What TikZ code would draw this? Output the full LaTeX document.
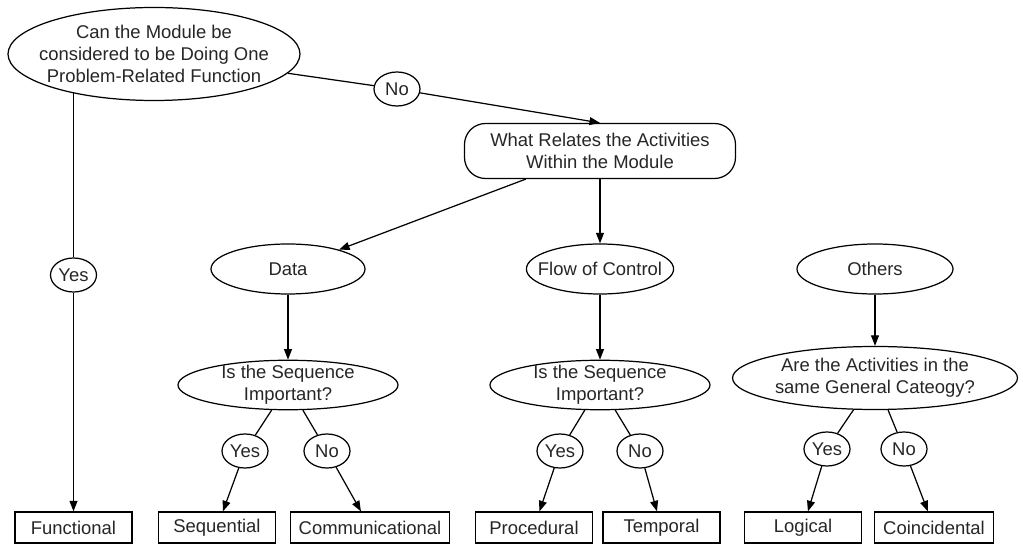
\documentclass[tikz,border=0pt]{standalone}
\usepackage{fontspec}
\setmainfont{Liberation Sans}
\usetikzlibrary{arrows.meta,shapes.geometric}

\begin{document}
\begin{tikzpicture}[
  font=\fontsize{10.5}{12.4}\selectfont,
  line width=0.7pt,
  quest/.style={ellipse,draw,inner sep=0pt,align=center,text=black!85},
  answer/.style={ellipse,draw,inner sep=0pt,minimum width=0.92cm,minimum height=0.68cm,text=black!85},
  relbox/.style={rectangle,draw,rounded corners=0.42cm,align=center,text=black!85,
                 minimum width=5.42cm,minimum height=1.1cm},
  kind/.style={rectangle,draw,inner xsep=0.17cm,minimum width=2.34cm,minimum height=0.62cm,text=black!85},
  link/.style={-{Triangle[length=6pt,width=4.5pt]}}
]
  \useasboundingbox (0,0) rectangle (20.46,-10.92);

  % questions
  \node[quest,inner xsep=-0.235cm,inner ysep=0.05cm,minimum width=5.84cm,minimum height=1.86cm](q1)
      at (3.08,-1.08) {Can the Module be\\considered to be Doing One\\Problem-Related Function};
  \node[relbox](rel) at (12,-3.02) {What Relates the Activities\\Within the Module};
  \node[quest,minimum width=3.08cm,minimum height=1cm](data)   at (5.76,-5.38) {Data};
  \node[quest,inner xsep=-0.2cm,minimum width=2.94cm,minimum height=1cm](flow) at (12,-5.38) {Flow of Control};
  \node[quest,minimum width=3.12cm,minimum height=1cm](others) at (17.5,-5.38) {Others};
  \node[quest,inner ysep=-0.04cm,minimum width=4.4cm,minimum height=0.98cm](seq1) at (5.76,-7.7) {Is the Sequence\\Important?};
  \node[quest,inner ysep=-0.04cm,minimum width=4.4cm,minimum height=0.98cm](seq2) at (12,-7.7)   {Is the Sequence\\Important?};
  \node[quest,minimum width=5.7cm,minimum height=1.26cm](cat)  at (17.5,-7.56) {Are the Activities in the\\same General Cateogy?};

  % yes / no
  \node[answer](no1)  at (7.94,-1.78)  {No};
  \node[answer](yes1) at (1.47,-5.5)   {Yes};
  \node[answer](yes2) at (4.9,-9.02)   {Yes};
  \node[answer](no2)  at (6.54,-9.02)  {No};
  \node[answer](yes3) at (11.2,-9.02)  {Yes};
  \node[answer](no3)  at (12.8,-9.02)  {No};
  \node[answer](yes4) at (16.54,-8.98) {Yes};
  \node[answer](no4)  at (18.08,-8.98) {No};

  % kinds of cohesion
  \node[kind](func) at (1.47,-10.55)  {Functional};
  \node[kind](seqb) at (4.34,-10.55)  {Sequential};
  \node[kind](comm) at (7.4,-10.55)   {Communicational};
  \node[kind](proc) at (10.68,-10.55) {Procedural};
  \node[kind](temp) at (13.23,-10.55) {Temporal};
  \node[kind](logi) at (16.06,-10.55) {Logical};
  \node[kind](coin) at (18.68,-10.55) {Coincidental};

  \draw (yes1) -- (yes1 |- q1.206);
  \draw[link] (yes1) -- (func);
  \draw (q1) -- (no1);
  \draw[link] (no1) -- (rel.north);
  \draw[link] (rel) -- (data);
  \draw[link] (rel) -- (flow);
  \draw[link] (data) -- (seq1);
  \draw[link] (flow) -- (seq2);
  \draw[link] (others) -- (cat);

  \draw (seq1) -- (yes2);  \draw[link] (yes2) -- (seqb);
  \draw (seq1) -- (no2);   \draw[link] (no2) -- (comm);
  \draw (seq2) -- (yes3);  \draw[link] (yes3) -- (proc);
  \draw (seq2) -- (no3);   \draw[link] (no3) -- (temp);
  \draw (cat) -- (yes4);   \draw[link] (yes4) -- (logi);
  \draw (cat) -- (no4);    \draw[link] (no4) -- (coin);
\end{tikzpicture}
\end{document}
